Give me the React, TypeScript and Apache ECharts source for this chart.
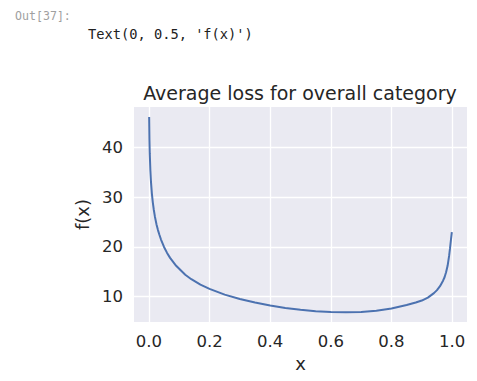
import React, { useEffect, useRef } from "react";
import * as echarts from "echarts";

const xValues = [0.001, 0.002, 0.003, 0.005, 0.007, 0.01, 0.013, 0.016, 0.02, 0.025, 0.03, 0.035, 0.04, 0.05, 0.06, 0.07, 0.08, 0.09, 0.1, 0.12, 0.14, 0.17, 0.2, 0.25, 0.3, 0.35, 0.4, 0.45, 0.5, 0.55, 0.6, 0.65, 0.7, 0.75, 0.8, 0.85, 0.88, 0.9, 0.92, 0.94, 0.95, 0.96, 0.97, 0.975, 0.98, 0.985, 0.99, 0.993, 0.996, 0.999];
const yValues = [46.2, 41.5, 38.8, 35.4, 33.1, 30.7, 29.0, 27.6, 26.1, 24.6, 23.4, 22.4, 21.5, 20.0, 18.8, 17.8, 17.0, 16.2, 15.6, 14.4, 13.5, 12.4, 11.55, 10.4, 9.5, 8.8, 8.2, 7.7, 7.35, 7.05, 6.9, 6.85, 6.9, 7.15, 7.6, 8.3, 8.8, 9.2, 9.8, 10.7, 11.3, 12.1, 13.2, 13.9, 14.9, 16.2, 18.2, 19.7, 21.4, 23.0];
const xTicks = [0, 0.2, 0.4, 0.6, 0.8, 1.0];
const yTicks = [10, 20, 30, 40];

const title = "Average loss for overall category";
const outPrompt = "Out[37]:";
const outText = "Text(0, 0.5, 'f(x)')";

export default function App() {
  const ref = useRef<HTMLDivElement>(null);
  useEffect(() => {
    const chart = echarts.init(ref.current!, null, { renderer: "svg" });
    const data = xValues.map((x, i) => [x, yValues[i]]);
    const dark = "#262626";
    const font = "DejaVu Sans";
    chart.setOption({
      animation: false,
      backgroundColor: "#ffffff",
      grid: {
        left: 134,
        top: 107,
        width: 333,
        height: 215,
        show: true,
        backgroundColor: "#EAEAF2",
        borderWidth: 0,
        containLabel: false,
        outerBoundsMode: "none",
      },
      xAxis: {
        type: "value",
        min: -0.049,
        max: 1.049,
        axisLine: { show: false },
        axisTick: { show: false, customValues: xTicks },
        axisLabel: {
          customValues: xTicks,
          formatter: (v: number) => v.toFixed(1),
          color: dark,
          fontFamily: font,
          fontSize: 16.5,
          margin: 11,
        },
        splitLine: { show: true, lineStyle: { color: "#ffffff", width: 1.3 } },
        name: "x",
        nameLocation: "middle",
        nameGap: 31,
        nameTextStyle: { color: dark, fontFamily: font, fontSize: 18 },
      },
      yAxis: {
        type: "value",
        min: 4.88,
        max: 48.2,
        axisLine: { show: false },
        axisTick: { show: false, customValues: yTicks },
        axisLabel: {
          customValues: yTicks,
          color: dark,
          fontFamily: font,
          fontSize: 16.5,
          margin: 11,
        },
        splitLine: { show: true, lineStyle: { color: "#ffffff", width: 1.3 } },
        name: "f(x)",
        nameLocation: "middle",
        nameGap: 37,
        nameTextStyle: { color: dark, fontFamily: font, fontSize: 18 },
      },
      graphic: [
        {
          type: "text",
          x: 300,
          y: 93,
          style: {
            text: title,
            fill: dark,
            font: `19px "${font}"`,
            textAlign: "center",
            textVerticalAlign: "middle",
          },
        },
        {
          type: "text",
          x: 15,
          y: 16,
          style: {
            text: outPrompt,
            fill: "#a0a0a0",
            font: `11.6px "DejaVu Sans Mono"`,
            textAlign: "left",
            textVerticalAlign: "middle",
          },
        },
        {
          type: "text",
          x: 88,
          y: 34,
          style: {
            text: outText,
            fill: "#212121",
            font: `13.7px "DejaVu Sans Mono"`,
            textAlign: "left",
            textVerticalAlign: "middle",
          },
        },
      ],
      series: [
        {
          type: "line",
          data,
          showSymbol: false,
          smooth: false,
          lineStyle: { color: "#4C72B0", width: 2 },
        },
      ],
    });
    return () => chart.dispose();
  }, []);
  return (
    <div
      ref={ref}
      style={{ position: "fixed", left: 0, top: 0, width: 477, height: 381 }}
    />
  );
}
